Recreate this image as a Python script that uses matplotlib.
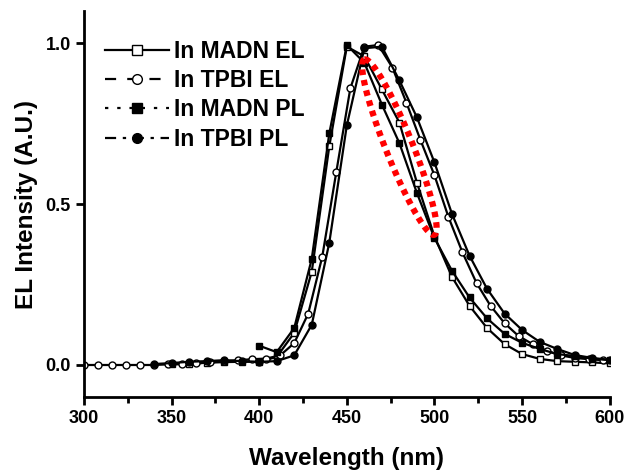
import numpy as np
import matplotlib
matplotlib.use("Agg")
import matplotlib.pyplot as plt
from matplotlib.lines import Line2D

plt.rcParams['font.family'] = ['Liberation Sans', 'DejaVu Sans']
plt.rcParams['font.weight'] = 'bold'

# In MADN EL (open squares)
madn_el_x = [350, 360, 370, 380, 390, 400, 410, 420, 430, 440, 450, 460, 470, 480,
             490, 500, 510, 520, 530, 540, 550, 560, 570, 580, 590, 600]
madn_el_y = [0.002, 0.004, 0.007, 0.009, 0.01, 0.01, 0.025, 0.10, 0.29, 0.68, 0.99,
             0.96, 0.857, 0.754, 0.567, 0.40, 0.274, 0.184, 0.115, 0.065, 0.034,
             0.019, 0.012, 0.01, 0.008, 0.005]

# In TPBI EL (open circles)
tpbi_el_x = [300, 308, 316, 324, 332, 340, 348, 356, 364, 372, 380, 388, 396, 404,
             412, 420, 428, 436, 444, 452, 460, 468, 476, 484, 492, 500, 508, 516,
             524, 532, 540, 548, 556, 564, 572, 580, 588, 596]
tpbi_el_y = [0.0, 0.0, 0.0, 0.0, 0.0, 0.0, 0.002, 0.003, 0.005, 0.008, 0.012, 0.015,
             0.018, 0.02, 0.03, 0.068, 0.16, 0.337, 0.60, 0.86, 0.99, 0.995, 0.925,
             0.816, 0.70, 0.59, 0.46, 0.35, 0.255, 0.184, 0.13, 0.09, 0.065, 0.044,
             0.03, 0.022, 0.018, 0.015]

# In MADN PL (filled squares)
madn_pl_x = [400, 410, 420, 430, 440, 450, 460, 470, 480, 490, 500, 510, 520, 530,
             540, 550, 560, 570, 580, 590, 600]
madn_pl_y = [0.06, 0.04, 0.115, 0.33, 0.72, 0.995, 0.94, 0.81, 0.69, 0.535, 0.395,
             0.293, 0.21, 0.145, 0.097, 0.069, 0.05, 0.034, 0.028, 0.02, 0.015]

# In TPBI PL (filled circles)
tpbi_pl_x = [340, 350, 360, 370, 380, 390, 400, 410, 420, 430, 440, 450, 460, 470,
             480, 490, 500, 510, 520, 530, 540, 550, 560, 570, 580, 590, 600]
tpbi_pl_y = [0.003, 0.006, 0.01, 0.012, 0.015, 0.012, 0.01, 0.012, 0.03, 0.125, 0.38,
             0.745, 0.985, 0.99, 0.885, 0.77, 0.63, 0.47, 0.34, 0.237, 0.16, 0.109,
             0.072, 0.05, 0.031, 0.022, 0.016]

labels = ['In MADN EL', 'In TPBI EL', 'In MADN PL', 'In TPBI PL']
markers = ['s', 'o', 's', 'o']
faces = ['white', 'white', 'black', 'black']
styles = ['-', (0, (5, 5)), (0, (1.5, 4)), (0, (5, 3, 1.5, 3))]

# red dotted ellipse marking, ends in data units
ell_end1 = (460, 0.95)
ell_end2 = (500, 0.405)
ell_width_px = 27

fig = plt.figure(figsize=(6.26, 4.70), dpi=100)
ax = fig.add_axes([0.134, 0.155, 0.84, 0.821])

series = [(madn_el_x, madn_el_y), (tpbi_el_x, tpbi_el_y),
          (madn_pl_x, madn_pl_y), (tpbi_pl_x, tpbi_pl_y)]
for (xs, ys), m, fc in zip(series, markers, faces):
    ax.plot(xs, ys, color='black', lw=1.6, marker=m, markersize=5,
            markerfacecolor=fc, markeredgecolor='black', markeredgewidth=1.0)

ax.set_xlim(300, 600)
ax.set_ylim(-0.1, 1.1)
ax.set_xticks([300, 350, 400, 450, 500, 550, 600])
ax.set_xticks(np.arange(325, 600, 50), minor=True)
ax.set_yticks([0.0, 0.5, 1.0])
ax.set_yticklabels(['0.0', '0.5', '1.0'])
for s in ['top', 'right']:
    ax.spines[s].set_visible(False)
for s in ['left', 'bottom']:
    ax.spines[s].set_linewidth(2)
ax.tick_params(which='major', direction='out', length=6, width=2, labelsize=13)
ax.tick_params(which='minor', direction='out', length=4, width=2)
ax.set_xlabel('Wavelength (nm)', fontsize=17.5, fontweight='bold', labelpad=14)
ax.set_ylabel('EL Intensity (A.U.)', fontsize=17.5, fontweight='bold', labelpad=5)

# ellipse drawn in pixel space then mapped back to data
p1 = ax.transData.transform(ell_end1)
p2 = ax.transData.transform(ell_end2)
c = (p1 + p2) / 2
a = (p1 - p2) / 2
n = np.array([-a[1], a[0]]) / np.hypot(*a) * ell_width_px / 2
t = np.linspace(0, 2 * np.pi, 200)
pts = c + np.outer(np.cos(t), a) + np.outer(np.sin(t), n)
dpts = ax.transData.inverted().transform(pts)
ax.plot(dpts[:, 0], dpts[:, 1], color='red', lw=4.5, linestyle=(0, (0.9, 0.8)),
        dash_capstyle='butt')

handles = [Line2D([], [], color='black', lw=1.6, linestyle=ls, marker=m,
                  markersize=7, markerfacecolor=fc, markeredgecolor='black')
           for ls, m, fc in zip(styles, markers, faces)]
ax.legend(handles, labels, loc='upper left', bbox_to_anchor=(0.0, 0.98),
          frameon=False, handlelength=2.8, handletextpad=0.25,
          labelspacing=0.28, prop={'weight': 'bold', 'size': 16.5})

fig.savefig('out.png', dpi=100)
